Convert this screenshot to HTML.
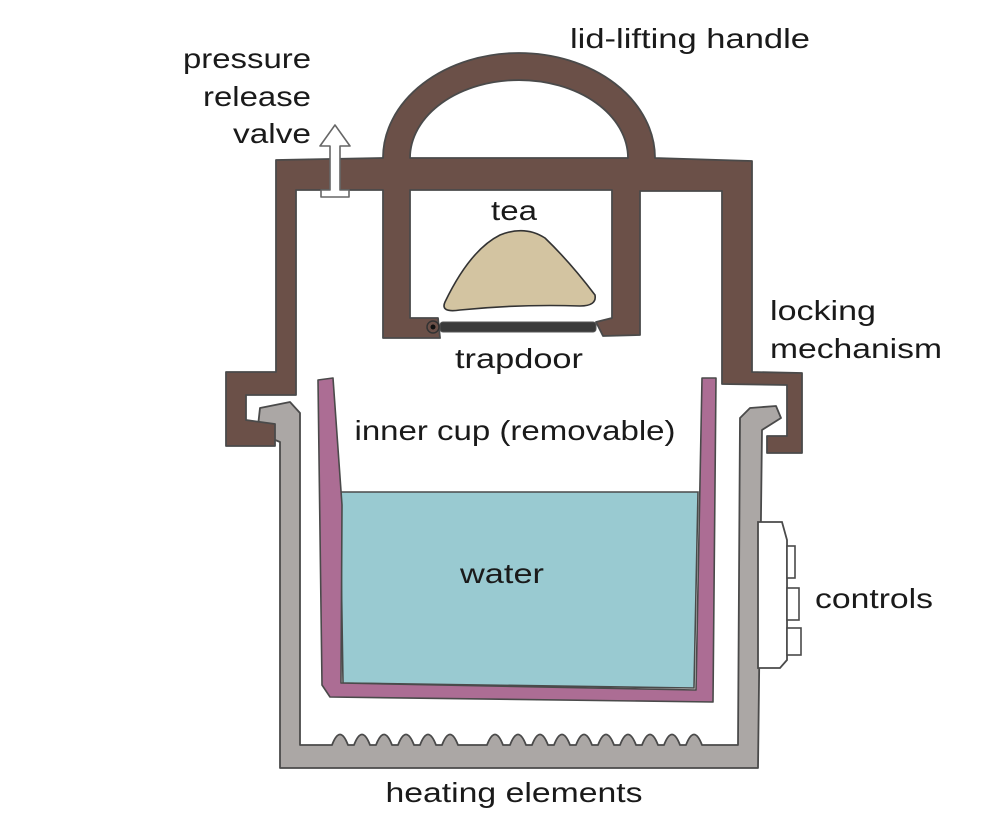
<!DOCTYPE html>
<html><head><meta charset="utf-8"><style>
html,body{margin:0;padding:0;background:#fff;}
svg{display:block;}
text{font-family:"Liberation Sans",sans-serif;font-size:28px;fill:#1a1a1a;}
</style></head><body>
<svg width="1000" height="814" viewBox="0 0 1000 814" xmlns="http://www.w3.org/2000/svg">
<!-- gray outer pot -->
<path d="M280,768 L280,442 L268,437 L258,426 L260,408 L290,402 L300,413 L300,745
L332,745 Q340,724 348,745 L354,745 Q362,724 370,745 L376,745 Q384,724 392,745 L398,745 Q406,724 414,745 L420,745 Q428,724 436,745 L442,745 Q450,724 458,745
L487,745 Q495,724 503,745 L510,745 Q518,724 526,745 L532,745 Q540,724 548,745 L554,745 Q562,724 570,745 L576,745 Q584,724 592,745 L598,745 Q606,724 614,745 L620,745 Q628,724 636,745 L642,745 Q650,724 658,745 L664,745 Q672,724 680,745 L686,745 Q694,724 702,745
L738,745 L740,418 L750,408 L776,406 L781,418 L762,430 L758,768 Z" fill="#aba7a5" stroke="#4a4a4a" stroke-width="1.8" stroke-linejoin="round"/>
<!-- controls -->
<path d="M758,522 L782,522 L787,540 L787,660 L780,668 L758,668 Z" fill="#fff" stroke="#4a4a4a" stroke-width="1.8"/>
<rect x="787" y="546" width="8" height="32" fill="#fff" stroke="#4a4a4a" stroke-width="1.6"/>
<rect x="787" y="588" width="12" height="32" fill="#fff" stroke="#4a4a4a" stroke-width="1.6"/>
<rect x="787" y="628" width="14" height="27" fill="#fff" stroke="#4a4a4a" stroke-width="1.6"/>
<!-- water -->
<path d="M340,492 L698,492 L694,688 L343,683 Z" fill="#99cad1" stroke="#4a4a4a" stroke-width="1.6"/>
<!-- purple cup -->
<path d="M318,380 L333,378 L342,505 L341,683 L696,690 L702,378 L716,378 L713,702 L330,697 L322,685 Z" fill="#ac6d94" stroke="#4a4a4a" stroke-width="1.6" stroke-linejoin="round"/>
<!-- brown lid -->
<path fill-rule="evenodd" d="M226,372 L276,372 L276,160 L383,158 A136 105 0 0 1 655,158 L752,161 L752,372 L802,373 L802,453 L767,453 L767,436 L787,436 L787,385 L722,384 L722,191 L640,191 L640,335 L603,336 L596,322 L612,318 L612,190 L410,190 L410,318 L438,318 L440,338 L383,338 L383,190 L296,190 L296,395 L246,395 L246,420 L275,424 L275,446 L226,446 Z
M410,158 A109 78 0 0 1 628,158 Z" fill="#6b5048" stroke="#4a4a4a" stroke-width="1.8" stroke-linejoin="round"/>
<!-- trapdoor -->
<rect x="440" y="322" width="156" height="10" rx="3" fill="#3a3a3a" stroke="#555" stroke-width="1"/>
<circle cx="433" cy="327" r="6" fill="#6b5048" stroke="#333" stroke-width="1.5"/>
<circle cx="433" cy="327" r="2.5" fill="#111"/>
<!-- tea -->
<path d="M445,302 Q470,250 500,235 Q525,225 545,238 Q570,262 595,295 Q597,306 580,306 Q520,304 460,310 Q440,313 445,302 Z" fill="#d3c4a1" stroke="#333" stroke-width="1.6"/>
<!-- valve -->
<path d="M335,125 L350,146 L340,146 L340,190 L349,190 L349,197 L321,197 L321,190 L330,190 L330,146 L320,146 Z" fill="#fff" stroke="#666" stroke-width="1.6" stroke-linejoin="round"/>
<!-- labels -->
<text x="690" y="48" text-anchor="middle" textLength="240" lengthAdjust="spacingAndGlyphs">lid-lifting handle</text>
<text x="311" y="68" text-anchor="end" textLength="128" lengthAdjust="spacingAndGlyphs">pressure</text>
<text x="311" y="106" text-anchor="end" textLength="108" lengthAdjust="spacingAndGlyphs">release</text>
<text x="311" y="143" text-anchor="end" textLength="78" lengthAdjust="spacingAndGlyphs">valve</text>
<text x="514" y="220" text-anchor="middle" textLength="46" lengthAdjust="spacingAndGlyphs">tea</text>
<text x="519" y="368" text-anchor="middle" textLength="128" lengthAdjust="spacingAndGlyphs">trapdoor</text>
<text x="515" y="440" text-anchor="middle" textLength="321" lengthAdjust="spacingAndGlyphs">inner cup (removable)</text>
<text x="502" y="583" text-anchor="middle" textLength="84" lengthAdjust="spacingAndGlyphs">water</text>
<text x="770" y="320" textLength="106" lengthAdjust="spacingAndGlyphs">locking</text>
<text x="770" y="358" textLength="172" lengthAdjust="spacingAndGlyphs">mechanism</text>
<text x="815" y="608" textLength="118" lengthAdjust="spacingAndGlyphs">controls</text>
<text x="514" y="802" text-anchor="middle" textLength="257" lengthAdjust="spacingAndGlyphs">heating elements</text>
</svg>
</body></html>
